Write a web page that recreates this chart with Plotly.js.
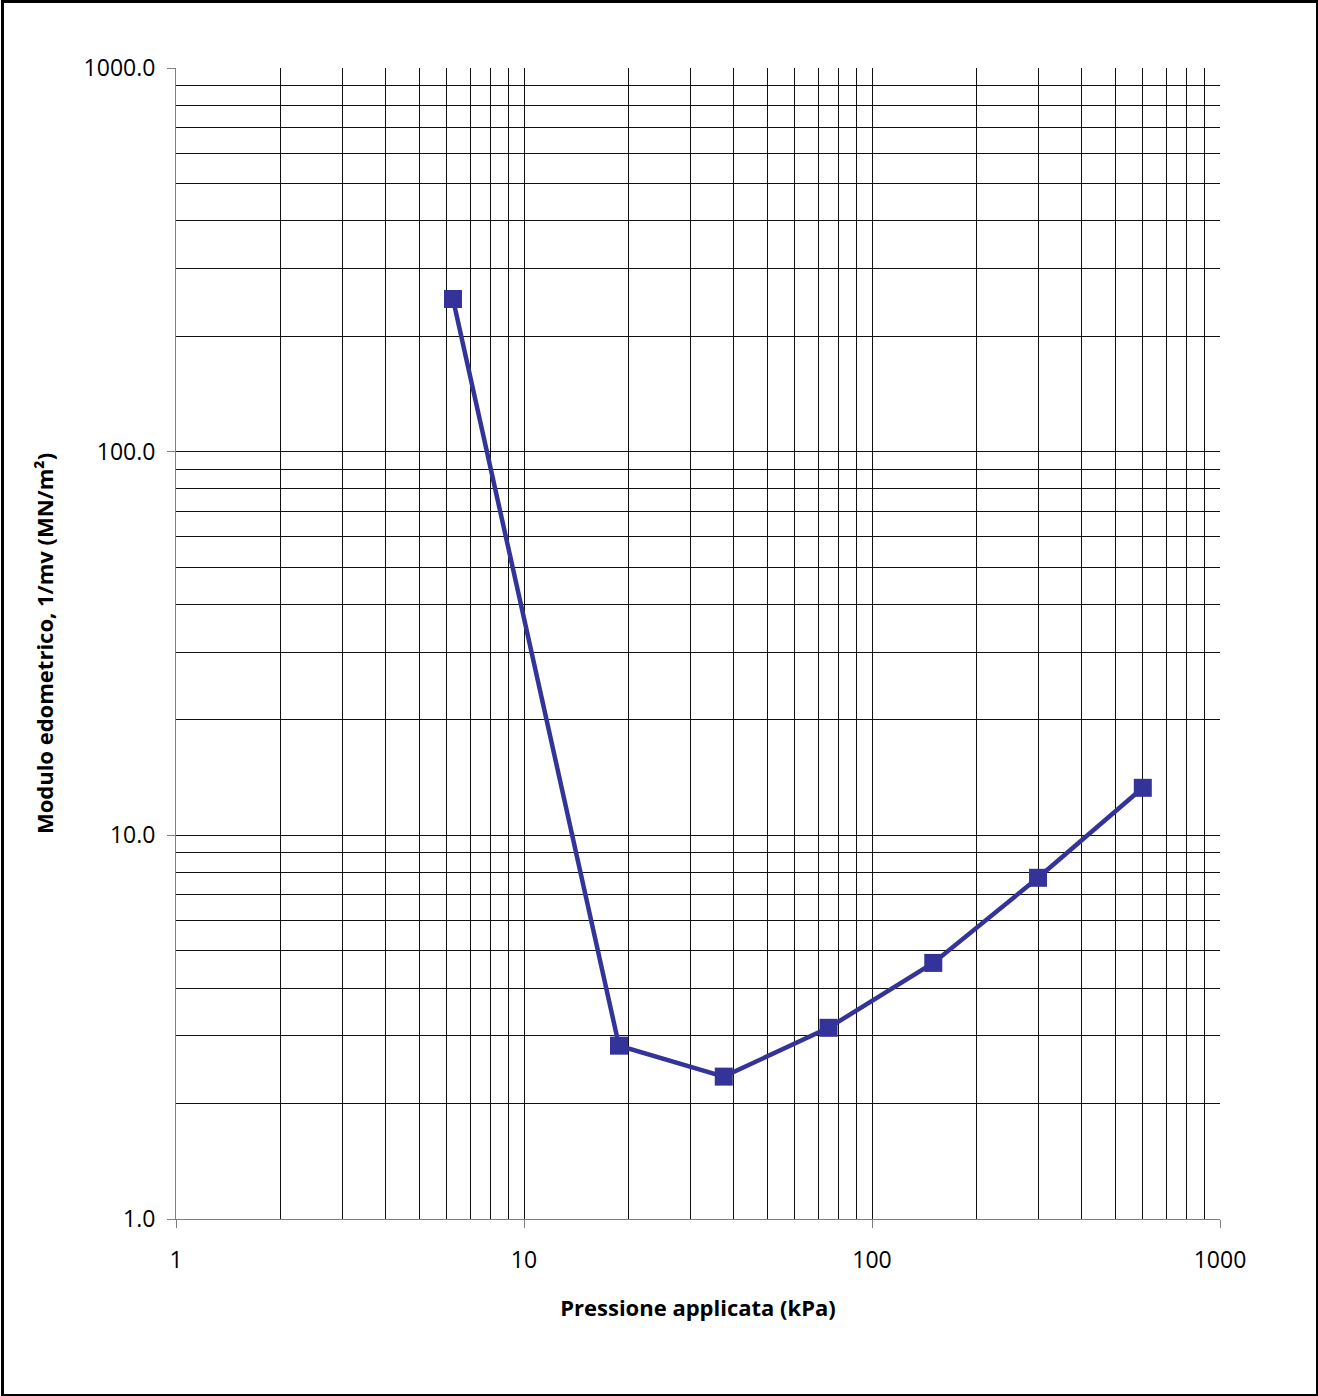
<!DOCTYPE html>
<html><head><meta charset="utf-8">
<script src="https://cdn.plot.ly/plotly-3.0.1.min.js"></script>
<style>body{margin:0;padding:0;background:#fff;} #wrap{position:relative;width:1318px;height:1396px;} #border{position:absolute;left:1px;top:0px;width:1312px;height:1391px;border:3px solid #000;pointer-events:none;}</style>
</head><body>
<div id="wrap"><div id="chart" style="width:1318px;height:1396px;"></div><div id="border"></div></div>
<script>
const pressure = [6.25, 18.75, 37.5, 75, 150, 300, 600];
const modulus = [250, 2.83, 2.35, 3.15, 4.65, 7.75, 13.3];
const xTickVals = [1, 10, 100, 1000];
const xTickText = ['1', '10', '100', '1000'];
const yTickVals = [1, 10, 100, 1000];
const yTickText = ['1.0', '10.0', '100.0', '1000.0'];

const font = "Open Sans, Liberation Sans, Arial, sans-serif";
Plotly.newPlot('chart', [{
  x: pressure, y: modulus, type: 'scatter', mode: 'lines+markers',
  line: {color: '#333399', width: 4.5},
  marker: {symbol: 'square', size: 18, color: '#333399'}
}], {
  width: 1318, height: 1396,
  margin: {l: 176, r: 98, t: 68, b: 177},
  paper_bgcolor: '#fff', plot_bgcolor: '#fff',
  showlegend: false,
  font: {family: font, color: '#000', size: 22},
  xaxis: {
    type: 'log', range: [0, 3],
    tickvals: xTickVals, ticktext: xTickText,
    ticks: 'outside', ticklen: 8, tickcolor: '#808080',
    showline: true, linecolor: '#808080', linewidth: 1,
    showgrid: true, gridcolor: '#111', gridwidth: 1,
    minor: {showgrid: true, gridcolor: '#111', gridwidth: 1, dtick: 'D1', ticks: ''},
    zeroline: false, mirror: false,
    tickfont: {size: 23},
    ticklabelstandoff: 12,
    title: {text: '<b>Pressione applicata (kPa)</b>', font: {size: 22}, standoff: 27}
  },
  yaxis: {
    type: 'log', range: [0, 3],
    tickvals: yTickVals, ticktext: yTickText,
    ticks: 'outside', ticklen: 8, tickcolor: '#808080',
    showline: true, linecolor: '#808080', linewidth: 1,
    showgrid: true, gridcolor: '#111', gridwidth: 1,
    minor: {showgrid: true, gridcolor: '#111', gridwidth: 1, dtick: 'D1', ticks: ''},
    zeroline: false,
    tickfont: {size: 23},
    ticklabelstandoff: 7,
    title: {text: '<b>Modulo edometrico, 1/mv (MN/m²)</b>', font: {size: 22}, standoff: 23}
  }
}, {staticPlot: true, displayModeBar: false});
</script>
</body></html>
